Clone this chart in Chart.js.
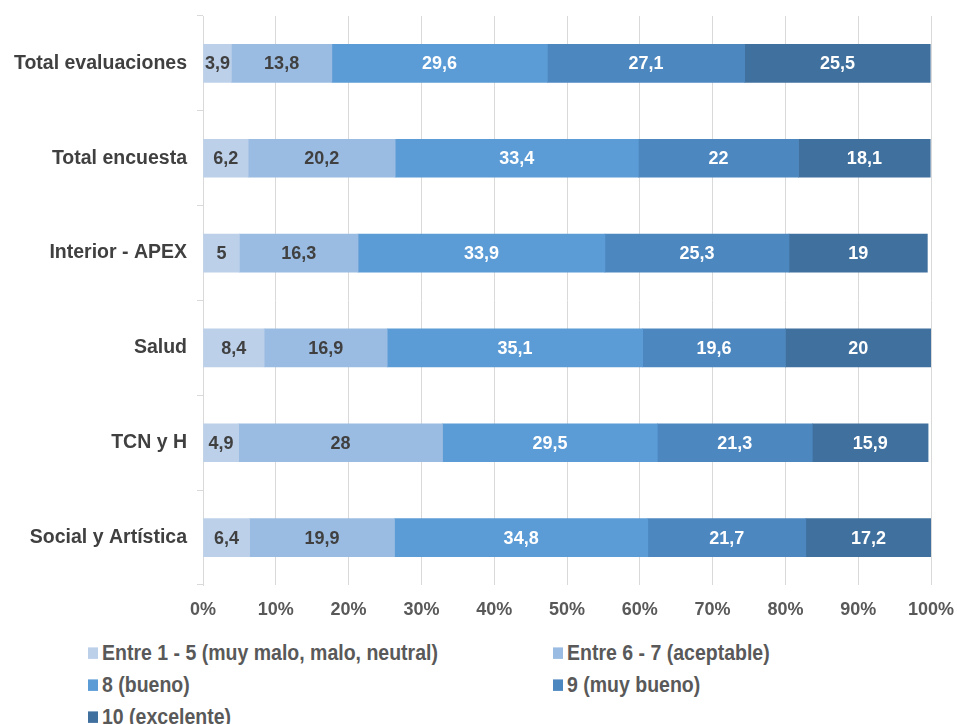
<!DOCTYPE html>
<html lang="es">
<head>
<meta charset="utf-8">
<title>Evaluaciones</title>
<script src="https://cdn.jsdelivr.net/npm/chart.js@4/dist/chart.umd.min.js"></script>
<style>
  html, body { margin: 0; padding: 0; background: #fff; }
  body { width: 957px; height: 724px; position: relative; overflow: hidden;
         font-family: "Liberation Sans", Arial, sans-serif; }
  #wrap { position: absolute; left: 0; top: 0; width: 957px; height: 630px; }
  #legend { position: absolute; left: 0; top: 0; width: 957px; }
  .item { position: absolute; font-weight: bold; font-size: 19.5px; line-height: 24px; color: #595959;
          white-space: nowrap; transform: scaleY(1.15); transform-origin: left center; }
  .item i { display: inline-block; width: 10px; height: 10px; margin-right: 4px; vertical-align: 1px; }
</style>
</head>
<body>
<div id="wrap"><canvas id="chart"></canvas></div>
<div id="legend"></div>
<script>
/* categories and series */
const categories = ["Total evaluaciones", "Total encuesta", "Interior - APEX", "Salud", "TCN y H", "Social y Artística"];
const seriesNames = ["Entre 1 - 5 (muy malo, malo, neutral)", "Entre 6 - 7 (aceptable)", "8 (bueno)", "9 (muy bueno)", "10 (excelente)"];
const entre1a5  = [3.9, 6.2, 5, 8.4, 4.9, 6.4];
const entre6a7  = [13.8, 20.2, 16.3, 16.9, 28, 19.9];
const bueno     = [29.6, 33.4, 33.9, 35.1, 29.5, 34.8];
const muyBueno  = [27.1, 22, 25.3, 19.6, 21.3, 21.7];
const excelente = [25.5, 18.1, 19, 20, 15.9, 17.2];
const xTicks = [0, 10, 20, 30, 40, 50, 60, 70, 80, 90, 100];

const colors = ["#bcd0ea", "#9bbce2", "#5b9bd6", "#4c87c0", "#40709e"];
const labelColors = ["#404040", "#404040", "#ffffff", "#ffffff", "#ffffff"];

const allSeries = [entre1a5, entre6a7, bueno, muyBueno, excelente];
const FONT = "'Liberation Sans', Arial, sans-serif";

// values written in the middle of each segment
const segmentLabels = {
  id: "segmentLabels",
  afterDatasetsDraw(chart) {
    const ctx = chart.ctx;
    ctx.save();
    ctx.font = "bold 18px " + FONT;
    ctx.textAlign = "center";
    ctx.textBaseline = "middle";
    chart.data.datasets.forEach((ds, i) => {
      chart.getDatasetMeta(i).data.forEach((bar, j) => {
        const x = (bar.x + bar.base) / 2;
        ctx.fillStyle = labelColors[i];
        ctx.fillText(String(ds.data[j]).replace(".", ","), x, bar.y + 1);
      });
    });
    ctx.restore();
  }
};

new Chart(document.getElementById("chart"), {
  type: "bar",
  data: {
    labels: categories,
    datasets: allSeries.map((d, i) => ({
      label: seriesNames[i],
      data: d,
      backgroundColor: colors[i],
      barThickness: 38
    }))
  },
  options: {
    indexAxis: "y",
    responsive: true,
    maintainAspectRatio: false,
    animation: false,
    layout: { padding: { top: 16, right: 26, left: 0, bottom: 0 } },
    plugins: { legend: { display: false }, tooltip: { enabled: false } },
    scales: {
      x: {
        stacked: true,
        min: 0,
        max: 100,
        afterBuildTicks: s => { s.ticks = xTicks.map(v => ({ value: v })); },
        afterFit: s => { s.height = 45; s.paddingLeft = 0; s.paddingRight = 0; },
        grid: { color: "#d9d9d9", drawTicks: false },
        border: { display: false },
        ticks: {
          padding: 14,
          color: "#595959",
          font: { family: FONT, size: 18, weight: "bold" },
          callback: v => v + "%"
        }
      },
      y: {
        stacked: true,
        afterFit: s => { s.width = 203; s.paddingTop = 0; s.paddingBottom = 0; },
        grid: { offset: true, drawOnChartArea: false, tickLength: 6, color: "#d9d9d9" },
        border: { color: "#d9d9d9" },
        ticks: {
          padding: 10,
          color: "#404040",
          font: { family: FONT, size: 19.5, weight: "bold" }
        }
      }
    }
  },
  plugins: [segmentLabels]
});

// legend in two columns
const legend = document.getElementById("legend");
const pos = [[88, 652], [553, 652], [88, 684], [553, 684], [88, 716]];
seriesNames.forEach((name, i) => {
  const el = document.createElement("div");
  el.className = "item";
  el.style.left = pos[i][0] + "px";
  el.style.top = (pos[i][1] - 12) + "px";
  el.innerHTML = '<i style="background:' + colors[i] + '"></i>' + name;
  legend.appendChild(el);
});
</script>
</body>
</html>
